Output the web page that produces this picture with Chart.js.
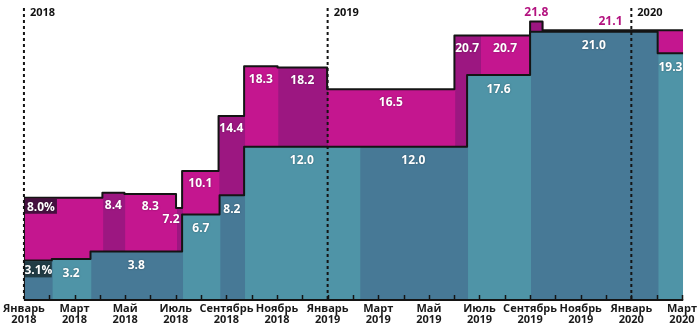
<!DOCTYPE html>
<html>
<head>
<meta charset="utf-8">
<script src="https://cdn.jsdelivr.net/npm/chart.js@4.4.1/dist/chart.umd.min.js"></script>
<style>
  html, body { margin: 0; padding: 0; background: #fff; }
  #wrap { width: 700px; height: 330px; position: relative; }
</style>
</head>
<body>
<div id="wrap"><canvas id="chart"></canvas></div>
<script>
// x is measured in months from 1 January 2018
const monthNames = ["Январь", "Февраль", "Март", "Апрель", "Май", "Июнь",
  "Июль", "Август", "Сентябрь", "Октябрь", "Ноябрь", "Декабрь"];
const firstYear = 2018;
const yearMarks = [0, 12, 24];
const yearLabels = ["2018", "2019", "2020"];
const xEnd = 26.05;

// lower band (teal): period start and level
const rateStarts = [0, 1.10, 2.63, 6.25, 7.73, 8.70, 13.26, 17.51, 20.0, 25.04];
const rateValues = [3.1, 3.2, 3.8, 6.7, 8.2, 12.0, 12.0, 17.6, 21.0, 19.3];

// upper band (magenta): period start and level
const inflStarts = [0, 3.10, 3.97, 6.01, 6.25, 7.69, 8.70, 10.02, 11.98, 17.01, 18.02, 20.0, 20.49];
const inflValues = [8.0, 8.4, 8.3, 7.2, 10.1, 14.4, 18.3, 18.2, 16.5, 20.7, 20.7, 21.8, 21.1];

const TEAL = ["#477996", "#4f94a7"];
const MAGENTA = ["#c4168f", "#9c1781"];
const OUTLINE = "#141414";
const SEAM = 0.04; // small overlap so neighbouring fills don't leave hairlines

function segments(starts, values) {
  return starts.map((s, i) => ({
    start: s,
    end: i + 1 < starts.length ? starts[i + 1] : xEnd,
    value: values[i]
  }));
}

function fillSets(starts, values, shades, order) {
  return segments(starts, values).map((seg, i) => ({
    data: [{ x: seg.start, y: seg.value }, { x: Math.min(seg.end + SEAM, xEnd), y: seg.value }],
    backgroundColor: shades[i % 2],
    borderWidth: 0,
    pointRadius: 0,
    fill: "origin",
    order: order
  }));
}

function outlineSet(starts, values, order) {
  const pts = [{ x: 0, y: 0 }];
  starts.forEach((s, i) => pts.push({ x: s, y: values[i] }));
  pts.push({ x: xEnd, y: values[values.length - 1] });
  return {
    data: pts,
    stepped: "before",
    borderColor: OUTLINE,
    borderWidth: 2,
    borderJoinStyle: "round",
    pointRadius: 0,
    fill: false,
    order: order
  };
}

const datasets = [
  outlineSet(rateStarts, rateValues, 1),
  ...fillSets(rateStarts, rateValues, TEAL, 2),
  outlineSet(inflStarts, inflValues, 3),
  ...fillSets(inflStarts, inflValues, MAGENTA, 4)
];

// value labels, year separators, inner month ticks
const overlay = {
  id: "overlay",
  afterDatasetsDraw(chart) {
    const { ctx, chartArea: area, scales: { x, y } } = chart;
    ctx.save();

    // month ticks along the baseline
    ctx.strokeStyle = OUTLINE;
    ctx.lineWidth = 1.5;
    for (let m = 1; m <= Math.floor(xEnd); m++) {
      const px = Math.round(x.getPixelForValue(m)) + 0.5;
      ctx.beginPath();
      ctx.moveTo(px, area.bottom);
      ctx.lineTo(px, area.bottom - 5);
      ctx.stroke();
    }

    // baseline
    ctx.lineWidth = 2;
    ctx.beginPath();
    ctx.moveTo(area.left, area.bottom);
    ctx.lineTo(area.right, area.bottom);
    ctx.stroke();

    // year separators
    ctx.setLineDash([3, 3]);
    ctx.lineWidth = 2;
    yearMarks.forEach(m => {
      const px = x.getPixelForValue(m);
      ctx.beginPath();
      ctx.moveTo(px, area.top);
      ctx.lineTo(px, area.bottom);
      ctx.stroke();
    });
    ctx.setLineDash([]);
    ctx.fillStyle = "#111";
    ctx.font = "bold 11px 'Open Sans', sans-serif";
    ctx.textAlign = "left";
    ctx.textBaseline = "middle";
    yearMarks.forEach((m, i) => {
      ctx.fillText(yearLabels[i], x.getPixelForValue(m) + 6, area.top + 5);
    });

    ctx.font = "bold 12px 'Open Sans', sans-serif";
    ctx.textAlign = "center";

    const drawLabel = (text, px, py, color) => {
      ctx.shadowColor = "rgba(0,0,0,0.35)";
      ctx.shadowBlur = 2;
      ctx.fillStyle = color;
      ctx.fillText(text, px, py);
      ctx.shadowColor = "transparent";
      ctx.shadowBlur = 0;
    };

    const boxLabel = (text, left, top, w, h, bg) => {
      ctx.fillStyle = bg;
      ctx.fillRect(left, top, w, h);
      drawLabel(text, left + w / 2, top + h / 2 + 1, "#fff");
    };

    segments(rateStarts, rateValues).forEach((seg, i) => {
      const x0 = x.getPixelForValue(seg.start);
      const x1 = x.getPixelForValue(seg.end);
      const top = y.getPixelForValue(seg.value);
      if (i === 0) {
        boxLabel(seg.value.toFixed(1) + "%", x0 + 1, top + 1, x1 - x0 - 1, 16, "#213c45");
      } else {
        drawLabel(seg.value.toFixed(1), (x0 + x1) / 2, top + 14, "#fff");
      }
    });

    segments(inflStarts, inflValues).forEach((seg, i) => {
      const x0 = x.getPixelForValue(seg.start);
      const x1 = x.getPixelForValue(seg.end);
      const top = y.getPixelForValue(seg.value);
      const text = seg.value.toFixed(1);
      if (i === 0) {
        boxLabel(text + "%", x0 + 1, top + 1, 32, 15, "#461040");
      } else if (i === 3) {
        // dip is too narrow, label sits just left of it
        drawLabel(text, x0 - 5, top + 12, "#fff");
      } else if (i >= inflValues.length - 2) {
        ctx.fillStyle = "#b3127f";
        ctx.fillText(text, i === inflValues.length - 1 ? x0 + 68 : (x0 + x1) / 2, top - 9);
      } else {
        drawLabel(text, (x0 + x1) / 2, top + 13, "#fff");
      }
    });

    ctx.restore();
  }
};

new Chart(document.getElementById("chart"), {
  type: "line",
  data: { datasets },
  options: {
    responsive: true,
    maintainAspectRatio: false,
    animation: false,
    layout: { padding: { left: 21, right: 16, top: 8, bottom: 0 } },
    plugins: {
      legend: { display: false },
      tooltip: { enabled: false }
    },
    scales: {
      x: {
        type: "linear",
        min: 0,
        max: xEnd,
        grid: { display: false, drawTicks: false },
        border: { display: false },
        afterFit: (scale) => { scale.height = 30; },
        ticks: {
          stepSize: 1,
          includeBounds: false,
          autoSkip: false,
          maxRotation: 0,
          padding: 3,
          color: "#1a1a1a",
          font: { family: "'Open Sans', sans-serif", size: 11, weight: "bold", lineHeight: 1.0 },
          callback: (v) => (Number.isInteger(v) && v % 2 === 0)
            ? [monthNames[v % 12], String(firstYear + Math.floor(v / 12))]
            : ""
        }
      },
      y: {
        display: false,
        min: 0,
        max: 22.85
      }
    }
  },
  plugins: [overlay]
});
</script>
</body>
</html>
